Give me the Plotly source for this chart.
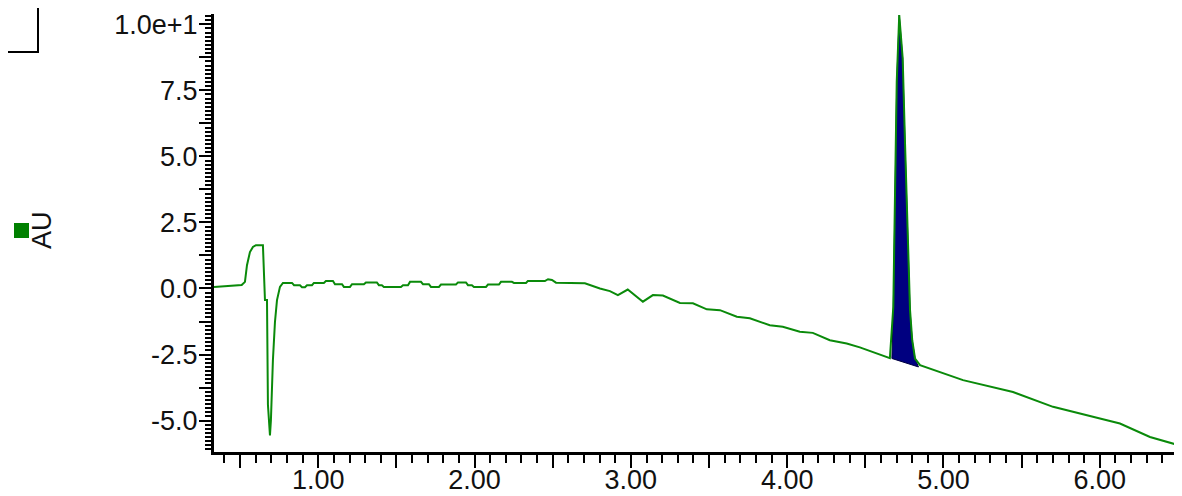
import plotly.graph_objects as go

# Chromatogram trace (time in min, signal in AU)
time_min = [0.333, 0.510, 0.531, 0.544, 0.563, 0.582, 0.601, 0.646, 0.659, 0.672, 0.678, 0.691, 0.697,
            0.710, 0.723, 0.736, 0.755, 0.774, 0.832, 0.845, 0.883, 0.896, 0.915, 0.928, 0.960,
            0.972, 1.036, 1.049, 1.094, 1.107, 1.152, 1.164, 1.203, 1.216, 1.292, 1.305, 1.375,
            1.388, 1.407, 1.420, 1.529, 1.542, 1.574, 1.587, 1.657, 1.670, 1.708, 1.721, 1.772,
            1.785, 1.881, 1.894, 1.945, 1.958, 1.983, 1.996, 2.073, 2.086, 2.156, 2.169, 2.239,
            2.252, 2.329, 2.341, 2.450, 2.470, 2.495, 2.521, 2.706, 2.802, 2.866, 2.917, 2.980,
            3.077, 3.141, 3.205, 3.314, 3.397, 3.486, 3.570, 3.678, 3.761, 3.889, 3.972, 4.081,
            4.164, 4.273, 4.381, 4.465, 4.657, 4.679, 4.690, 4.701, 4.717, 4.739, 4.754, 4.775,
            4.786, 4.800, 4.818, 4.850, 5.125, 5.445, 5.701, 6.001, 6.129, 6.321, 6.513, 6.526]
signal_au = [0.06, 0.13, 0.25, 0.88, 1.38, 1.57, 1.64, 1.64, -0.44, -0.44, -4.4, -5.56, -5.0,
             -2.7, -1.27, -0.44, 0.06, 0.21, 0.21, 0.125, 0.125, 0.05, 0.05, 0.125, 0.125,
             0.21, 0.21, 0.28, 0.28, 0.16, 0.16, 0.06, 0.06, 0.16, 0.16, 0.23, 0.23,
             0.125, 0.125, 0.06, 0.06, 0.125, 0.125, 0.25, 0.25, 0.16, 0.16, 0.06, 0.06,
             0.15, 0.15, 0.23, 0.23, 0.125, 0.125, 0.06, 0.06, 0.15, 0.15, 0.25, 0.25,
             0.21, 0.21, 0.28, 0.28, 0.35, 0.32, 0.22, 0.20, 0.00, -0.10, -0.25, -0.04,
             -0.50, -0.25, -0.27, -0.55, -0.56, -0.79, -0.82, -1.07, -1.13, -1.39, -1.45, -1.64,
             -1.68, -1.96, -2.08, -2.23, -2.64, -0.70, 3.47, 7.83, 10.35, 8.71, 5.49, 1.64,
             -0.82, -1.96, -2.65, -2.90, -3.47, -3.92, -4.48, -4.92, -5.11, -5.62, -5.94, -5.97]

# Integrated peak region
peak_time = [4.670, 4.679, 4.690, 4.701, 4.717, 4.739, 4.754, 4.775, 4.786, 4.800, 4.818, 4.840]
peak_signal = [-2.65, -0.70, 3.47, 7.83, 10.35, 8.71, 5.49, 1.64, -0.82, -1.96, -2.65, -2.97]
baseline_time = [4.840, 4.670]
baseline_signal = [-2.97, -2.65]

x_tickvals = [0.5, 1.0, 1.5, 2.0, 2.5, 3.0, 3.5, 4.0, 4.5, 5.0, 5.5, 6.0, 6.5]
x_ticktext = ["", "1.00", "", "2.00", "", "3.00", "", "4.00", "", "5.00", "", "6.00", ""]
y_tickvals = [-5.0, -3.75, -2.5, -1.25, 0.0, 1.25, 2.5, 3.75, 5.0, 6.25, 7.5, 8.75, 10.0]
y_ticktext = ["-5.0", "", "-2.5", "", "0.0", "", "2.5", "", "5.0", "", "7.5", "", "1.0e+1"]

# The page body adds an 8px offset; size the figure to fit the window
OFF = 8
W, H = 1182 - OFF, 496 - OFF
L, R, T, B = 214 - OFF, 0, 14 - OFF, 44
PW, PH = W - L - R, H - T - B

fig = go.Figure()
fig.add_trace(go.Scatter(
    x=peak_time + baseline_time, y=peak_signal + baseline_signal,
    mode="lines", fill="toself", fillcolor="#000080",
    line=dict(color="#000040", width=1), hoverinfo="skip", showlegend=False))
fig.add_trace(go.Scatter(
    x=time_min, y=signal_au, mode="lines",
    line=dict(color="#0a8a0a", width=2), showlegend=False))

font = dict(family="Liberation Sans, Arial, sans-serif", size=27, color="#111111")

fig.update_layout(
    width=W, height=H,
    margin=dict(l=L, r=R, t=T, b=B, autoexpand=False),
    paper_bgcolor="white", plot_bgcolor="white",
    font=font,
    xaxis=dict(range=[0.333, 6.526], showgrid=False, zeroline=False,
               showline=True, linecolor="black", linewidth=3,
               tickmode="array", tickvals=x_tickvals, ticktext=x_ticktext,
               ticks="outside", ticklen=13, tickwidth=2, tickcolor="black",
               tickfont=font, ticklabelstandoff=-11,
               minor=dict(tickmode="linear", tick0=0, dtick=0.1, ticks="outside",
                          ticklen=8, tickwidth=2, tickcolor="black", showgrid=False)),
    yaxis=dict(range=[-6.19, 10.39], showgrid=False, zeroline=False,
               showline=True, linecolor="black", linewidth=3,
               tickmode="array", tickvals=y_tickvals, ticktext=y_ticktext,
               ticks="outside", ticklen=12, tickwidth=2, tickcolor="black",
               tickfont=font, ticklabelstandoff=-4,
               minor=dict(tickmode="linear", tick0=0, dtick=0.15625, ticks="outside",
                          ticklen=6, tickwidth=2, tickcolor="black", showgrid=False)),
)

def px_x(p):
    return (p - OFF - L) / PW

def px_y(p):
    return 1 - (p - OFF - T) / PH

# Y axis label with colour key
fig.add_annotation(text="AU", xref="paper", yref="paper", x=px_x(42), y=px_y(230),
                   textangle=-90, showarrow=False, font=font, xanchor="center", yanchor="middle")
fig.add_shape(type="rect", xref="paper", yref="paper",
              x0=px_x(14), x1=px_x(29), y0=px_y(238), y1=px_y(223),
              fillcolor="#008000", line=dict(width=0))
# Partial frame at top-left
fig.add_shape(type="rect", xref="paper", yref="paper",
              x0=px_x(-10), x1=px_x(38), y0=px_y(52), y1=px_y(-10),
              fillcolor="rgba(0,0,0,0)", line=dict(color="black", width=2))

fig.write_html("out.html")
